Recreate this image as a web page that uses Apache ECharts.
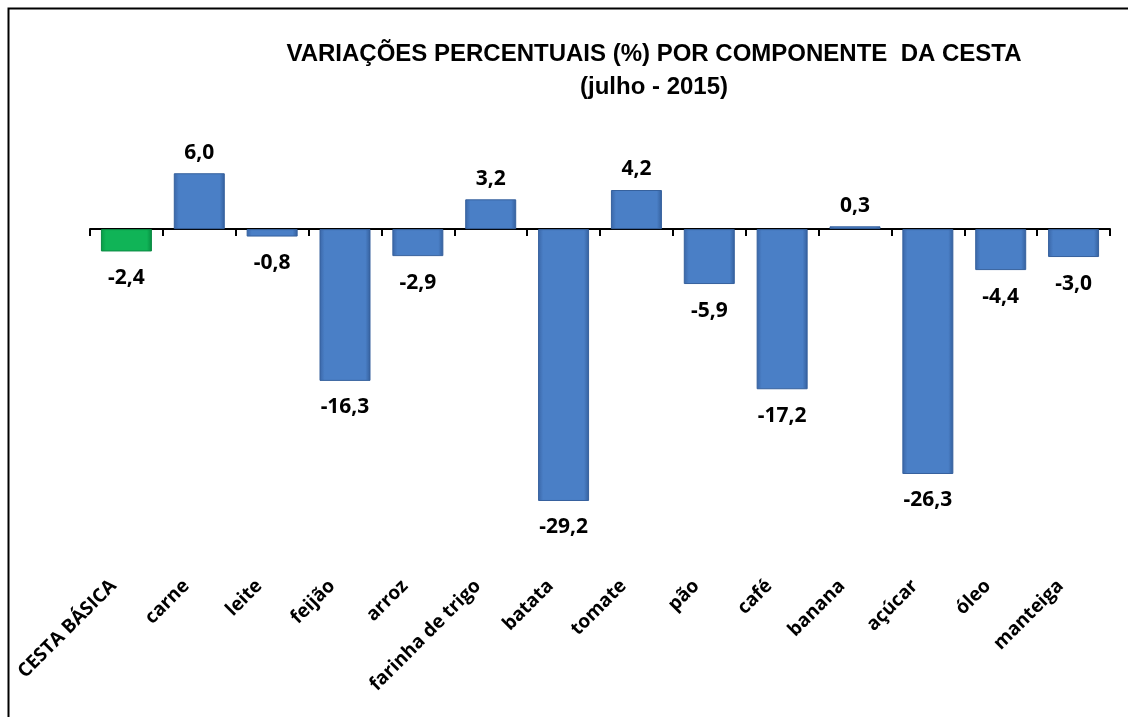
<!DOCTYPE html>
<html>
<head>
<meta charset="utf-8">
<script src="https://cdn.jsdelivr.net/npm/echarts@6/dist/echarts.min.js"></script>
<style>
html,body{margin:0;padding:0;background:#fff;}
#chart{width:1128px;height:717px;}
</style>
</head>
<body>
<div id="chart"></div>
<script>
var categories = ['CESTA BÁSICA','carne','leite','feijão','arroz','farinha de trigo','batata','tomate','pão','café','banana','açúcar','óleo','manteiga'];
var values = [-2.4, 6.0, -0.8, -16.3, -2.9, 3.2, -29.2, 4.2, -5.9, -17.2, 0.3, -26.3, -4.4, -3.0];
var titleLine1 = 'VARIAÇÕES PERCENTUAIS (%) POR COMPONENTE  DA CESTA';
var titleLine2 = '(julho - 2015)';

var chart = echarts.init(document.getElementById('chart'));

function grad(a, b, c) {
  return new echarts.graphic.LinearGradient(0, 0, 1, 0, [
    {offset: 0, color: a}, {offset: 0.1, color: b}, {offset: 0.9, color: b}, {offset: 1, color: c}
  ]);
}
var blue = grad('#3a66a7', '#4a7fc6', '#345f9c');
var green = grad('#089a46', '#10b457', '#078c40');

var seriesData = values.map(function (v, i) {
  var neg = v < 0;
  return {
    value: v,
    itemStyle: {color: i === 0 ? green : blue, borderColor: i === 0 ? '#0b8a44' : '#36619d', borderWidth: 1},
    label: {position: neg ? 'bottom' : 'top', distance: neg ? 16 : 10}
  };
});

chart.setOption({
  backgroundColor: '#ffffff',
  animation: false,
  title: [
    {text: titleLine1, left: 649, top: 37, textAlign: 'center',
     textStyle: {fontFamily: 'Liberation Sans', fontWeight: 'bold', fontSize: 24, color: '#000'}},
    {text: titleLine2, left: 649, top: 70, textAlign: 'center',
     textStyle: {fontFamily: 'Liberation Sans', fontWeight: 'bold', fontSize: 24, color: '#000'}}
  ],
  graphic: [{
    type: 'rect', left: 6, top: 6, shape: {x: 0, y: 0, width: 1200, height: 800},
    style: {fill: 'none', stroke: '#000', lineWidth: 2}, silent: true
  }],
  grid: [
    {left: 90, right: 18, top: 136, height: 419},
    {left: 77, right: 31, top: 136, height: 419}
  ],
  xAxis: [
    {type: 'category', gridIndex: 0, data: categories,
     axisLine: {onZero: true, lineStyle: {color: '#000', width: 2}},
     axisTick: {show: true, interval: 0, length: 7, inside: false, lineStyle: {color: '#000', width: 2}},
     axisLabel: {show: false}},
    {type: 'category', gridIndex: 1, data: categories, position: 'bottom',
     axisLine: {show: false, onZero: false}, axisTick: {show: false},
     axisLabel: {rotate: 45, margin: 28, interval: 0, color: '#000',
       fontFamily: 'Open Sans', fontWeight: 'bold', fontSize: 19}}
  ],
  yAxis: [
    {type: 'value', gridIndex: 0, min: -35, max: 10, show: false, splitLine: {show: false}},
    {type: 'value', gridIndex: 1, min: -35, max: 10, show: false, splitLine: {show: false}}
  ],
  series: [{
    type: 'bar', xAxisIndex: 0, yAxisIndex: 0,
    data: seriesData,
    barCategoryGap: '30%',
    label: {show: true, color: '#000', fontFamily: 'Noto Sans', fontWeight: 'bold', fontSize: 21,
      formatter: function (p) { return p.value.toFixed(1).replace('.', ','); }}
  }]
});
</script>
</body>
</html>
